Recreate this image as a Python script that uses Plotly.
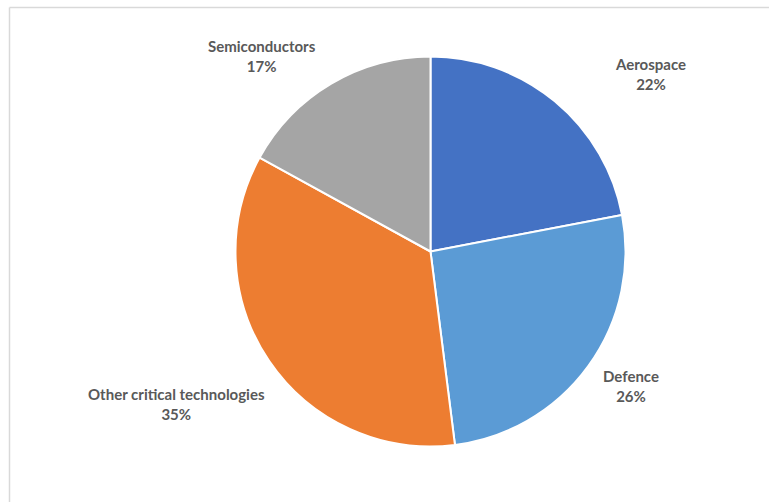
import plotly.graph_objects as go

# Share of foreign investment screening notifications by sector
sectors = ["Aerospace", "Defence", "Other critical technologies", "Semiconductors"]
shares = [22, 26, 35, 17]
colors = ["#4472C4", "#5B9BD5", "#ED7D31", "#A5A5A5"]

W, H = 769, 502
cx, cy, r = 430.5, 251.5, 195

fig = go.Figure(
    go.Pie(
        labels=sectors,
        values=shares,
        sort=False,
        direction="clockwise",
        rotation=0,
        marker=dict(colors=colors, line=dict(color="white", width=2)),
        textinfo="none",
        hoverinfo="label+percent",
        showlegend=False,
        domain=dict(
            x=[(cx - r) / W, (cx + r) / W],
            y=[1 - (cy + r) / H, 1 - (cy - r) / H],
        ),
    )
)

# Data labels placed outside the slices (pixel centres of each label block)
label_pos = {
    "Aerospace": (650, 74),
    "Defence": (631, 386),
    "Other critical technologies": (176, 404),
    "Semiconductors": (262, 56),
}
total = sum(shares)
for name, val in zip(sectors, shares):
    px, py = label_pos[name]
    fig.add_annotation(
        x=px / W, y=1 - py / H, xref="paper", yref="paper",
        xanchor="center", yanchor="middle",
        text=f"<b>{name}<br>{round(100 * val / total)}%</b>",
        showarrow=False, align="center",
        font=dict(family="Lato, Open Sans, sans-serif", size=15, color="#595959"),
    )

# Chart area frame (top and left edges visible)
frame = dict(color="#D9D9D9", width=1.5)
fig.add_shape(type="line", xref="paper", yref="paper",
              x0=9.5 / W, x1=1.0, y0=1 - 7.5 / H, y1=1 - 7.5 / H, line=frame)
fig.add_shape(type="line", xref="paper", yref="paper",
              x0=9.5 / W, x1=9.5 / W, y0=0, y1=1 - 7.5 / H, line=frame)

fig.update_layout(
    width=W, height=H,
    margin=dict(l=0, r=0, t=0, b=0),
    paper_bgcolor="white", plot_bgcolor="white",
)

fig.write_html("out.html")
